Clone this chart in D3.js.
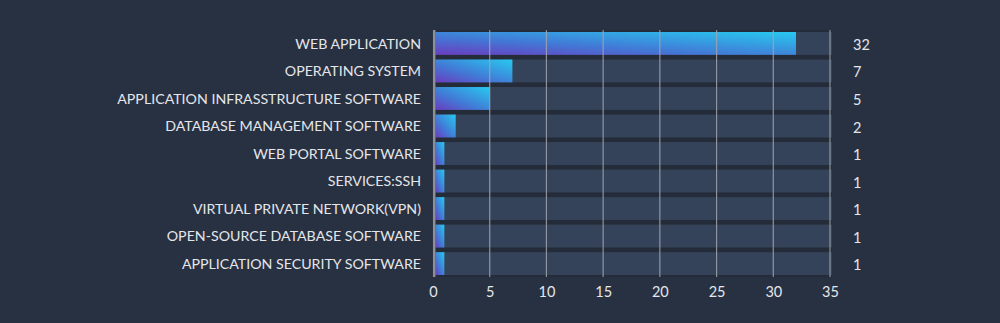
<!DOCTYPE html>
<html>
<head>
<meta charset="utf-8">
<script src="https://cdn.jsdelivr.net/npm/d3@7"></script>
<style>
  html, body { margin: 0; padding: 0; background: #283142; }
  svg { display: block; }
  text { font-family: "Lato", "Noto Sans", sans-serif; }
</style>
</head>
<body>
<svg id="chart" width="1000" height="323"></svg>
<script>
// Product categories, top to bottom
const categories = [
  "WEB APPLICATION",
  "OPERATING SYSTEM",
  "APPLICATION INFRASSTRUCTURE SOFTWARE",
  "DATABASE MANAGEMENT SOFTWARE",
  "WEB PORTAL SOFTWARE",
  "SERVICES:SSH",
  "VIRTUAL PRIVATE NETWORK(VPN)",
  "OPEN-SOURCE DATABASE SOFTWARE",
  "APPLICATION SECURITY SOFTWARE"
];
// Count per category
const counts = [32, 7, 5, 2, 1, 1, 1, 1, 1];
// Axis ticks
const xTicks = [0, 5, 10, 15, 20, 25, 30, 35];

const svg = d3.select("#chart");
const margin = { left: 433, right: 170, top: 32, bottom: 48 };
const W = 1000, H = 323;

const x = d3.scaleLinear().domain([0, 35]).range([margin.left, W - margin.right]);
const y = d3.scaleBand().domain(categories).range([margin.top, H - margin.bottom]).paddingInner(0.17).paddingOuter(0.0);

// Diagonal purple -> cyan fill for the bars
const defs = svg.append("defs");
const grad = defs.append("linearGradient").attr("id", "barFill")
  .attr("x1", 0).attr("y1", 1).attr("x2", 1).attr("y2", 0);
grad.append("stop").attr("offset", "0%").attr("stop-color", "#6a3cbf");
grad.append("stop").attr("offset", "40%").attr("stop-color", "#4279d6");
grad.append("stop").attr("offset", "100%").attr("stop-color", "#27c9ef");

// Row tracks
const plotTop = y(categories[0]) - 2;
const plotBottom = y(categories[categories.length - 1]) + y.bandwidth() + 2;
svg.append("rect")
  .attr("x", x(0)).attr("y", plotTop)
  .attr("width", x(35) - x(0) + 2).attr("height", plotBottom - plotTop)
  .attr("fill", "#242c39");

svg.append("g").selectAll("rect")
  .data(categories)
  .join("rect")
  .attr("x", x(0))
  .attr("y", d => y(d))
  .attr("width", x(35) - x(0) + 2)
  .attr("height", y.bandwidth())
  .attr("fill", "#35435a");

// Bars
svg.append("g").selectAll("rect")
  .data(counts)
  .join("rect")
  .attr("x", x(0) + 2.5)
  .attr("y", (d, i) => y(categories[i]))
  .attr("width", d => Math.max(0, x(d) - x(0) - 2.5))
  .attr("height", y.bandwidth())
  .attr("fill", "url(#barFill)");

// Vertical grid lines
svg.append("g").selectAll("line")
  .data(xTicks.filter(t => t > 0))
  .join("line")
  .attr("x1", d => x(d)).attr("x2", d => x(d))
  .attr("y1", plotTop).attr("y2", plotBottom)
  .attr("stroke", "#a0a5ad").attr("stroke-opacity", 0.85).attr("stroke-width", 1.2);

// Zero baseline
svg.append("line")
  .attr("x1", x(0) + 1.2).attr("x2", x(0) + 1.2)
  .attr("y1", plotTop).attr("y2", plotBottom)
  .attr("stroke", "#8c9096").attr("stroke-width", 2.5);

// X axis labels
const xAxis = d3.axisBottom(x).tickValues(xTicks).tickSize(0).tickPadding(0);
const gx = svg.append("g").attr("transform", `translate(0,${plotBottom + 15})`).call(xAxis);
gx.select(".domain").remove();
gx.selectAll("text").attr("fill", "#e4e6ea").attr("font-size", 14.5).attr("dy", "0.32em");

// Category labels
const yAxis = d3.axisLeft(y).tickSize(0).tickPadding(12);
const gy = svg.append("g").attr("transform", `translate(${x(0)},0)`).call(yAxis);
gy.select(".domain").remove();
gy.selectAll("text").attr("fill", "#e4e6ea").attr("font-size", 14.2).attr("dy", "0.38em");

// Value labels on the right
svg.append("g").selectAll("text")
  .data(counts)
  .join("text")
  .attr("x", 853)
  .attr("y", (d, i) => y(categories[i]) + y.bandwidth() / 2)
  .attr("dy", "0.45em")
  .attr("fill", "#e4e6ea")
  .attr("font-size", 14.5)
  .text(d => d);
</script>
</body>
</html>
